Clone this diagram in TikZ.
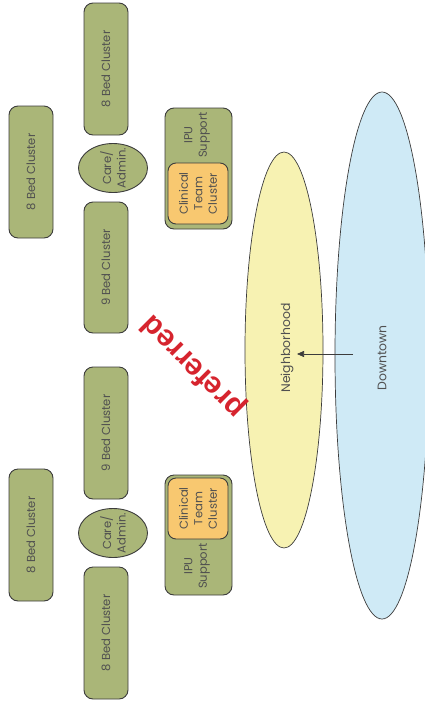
\documentclass[tikz,border=0pt]{standalone}
\usepackage{fontspec}
\setmainfont{Poppins}
\newfontfamily\redfont{Liberation Sans}
\usetikzlibrary{shapes.geometric,arrows.meta}

\definecolor{olive}{RGB}{170,182,120}
\definecolor{edge}{RGB}{60,60,60}
\definecolor{txt}{RGB}{80,80,80}
\definecolor{clinic}{RGB}{248,200,112}
\definecolor{nbhfill}{RGB}{247,242,178}
\definecolor{dtfill}{RGB}{207,234,246}
\definecolor{prefred}{RGB}{214,36,46}

\tikzset{
  bedbox/.style={draw=edge, line width=0.9pt, fill=olive, rounded corners=9pt,
    rotate=90, minimum width=132pt, minimum height=44pt, inner sep=0pt,
    text=txt, font=\fontsize{11.6}{14.5}\selectfont},
  carebox/.style={draw=edge, line width=0.9pt, fill=olive, ellipse,
    minimum width=69pt, minimum height=49pt, inner sep=0pt},
  ipubox/.style={draw=edge, line width=0.9pt, fill=olive, rounded corners=9pt,
    minimum width=67pt, inner sep=0pt},
  clinicbox/.style={draw=edge, line width=0.9pt, fill=clinic, rounded corners=8pt,
    minimum width=60pt, minimum height=61pt, inner sep=0pt},
  zone/.style={draw=edge, line width=0.7pt, ellipse, inner sep=0pt},
  lbl/.style={rotate=90, align=center, text=txt, inner sep=0pt,
    font=\fontsize{11.6}{14.5}\selectfont},
  conn/.style={draw=edge, line width=0.7pt, -{Triangle[length=7pt,width=6pt]}}
}

\begin{document}
\begin{tikzpicture}[x=1pt,y=1pt]
\useasboundingbox (0,0) rectangle (425,-702);

% districts
\node[zone, fill=dtfill, minimum width=94pt, minimum height=527pt] (down) at (382,-355.5) {};
\node[zone, fill=nbhfill, minimum width=78pt, minimum height=396pt] (nbh) at (284,-350) {};
\node[lbl, font=\fontsize{12.4}{14.5}\selectfont] (downt) at (382,-358) {Downtown};
\node[lbl, font=\fontsize{12.4}{14.5}\selectfont] (nbht) at (287,-348) {Neighborhood};
\draw[conn] ([xshift=-29pt,yshift=1.5pt]down.center) -- ([xshift=13pt,yshift=-4pt]nbh.center);

% upper unit
\node[bedbox] (bedA) at (31,-172) {8 Bed Cluster};
\node[bedbox] (bedB) at (106,-69) {8 Bed Cluster};
\node[bedbox, minimum width=131pt] (bedC) at (106,-267.5) {9 Bed Cluster};
\node[carebox] (careA) at (113,-168) {};
\node[lbl] (careAt) at (careA.center) {Care/\\Admin.};
\node[ipubox, minimum height=121pt] (ipuA) at (198.5,-168.5) {};
\node[clinicbox] (clinA) at (198,-193.5) {};
\node[lbl] (ipuAt) at (197,-135) {IPU\\Support};
\node[lbl] (clinAt) at (clinA.center) {Clinical\\Team\\Cluster};

% lower unit
\node[bedbox] (bedD) at (106,-433) {9 Bed Cluster};
\node[bedbox] (bedE) at (31,-535) {8 Bed Cluster};
\node[bedbox] (bedF) at (106,-633) {8 Bed Cluster};
\node[carebox] (careB) at (113,-533) {};
\node[lbl] (careBt) at (careB.center) {Care/\\Admin.};
\node[ipubox, minimum height=120pt] (ipuB) at (198.5,-535) {};
\node[clinicbox] (clinB) at (198,-508.5) {};
\node[lbl] (ipuBt) at (197,-566) {IPU\\Support};
\node[lbl] (clinBt) at (clinB.center) {Clinical\\Team\\Cluster};

% slanted caption
\node[rotate=135, text=prefred, inner sep=0pt,
  font=\redfont\bfseries\fontsize{30}{32}\selectfont] (pref) at (194,-366) {preferred};
\end{tikzpicture}
\end{document}
